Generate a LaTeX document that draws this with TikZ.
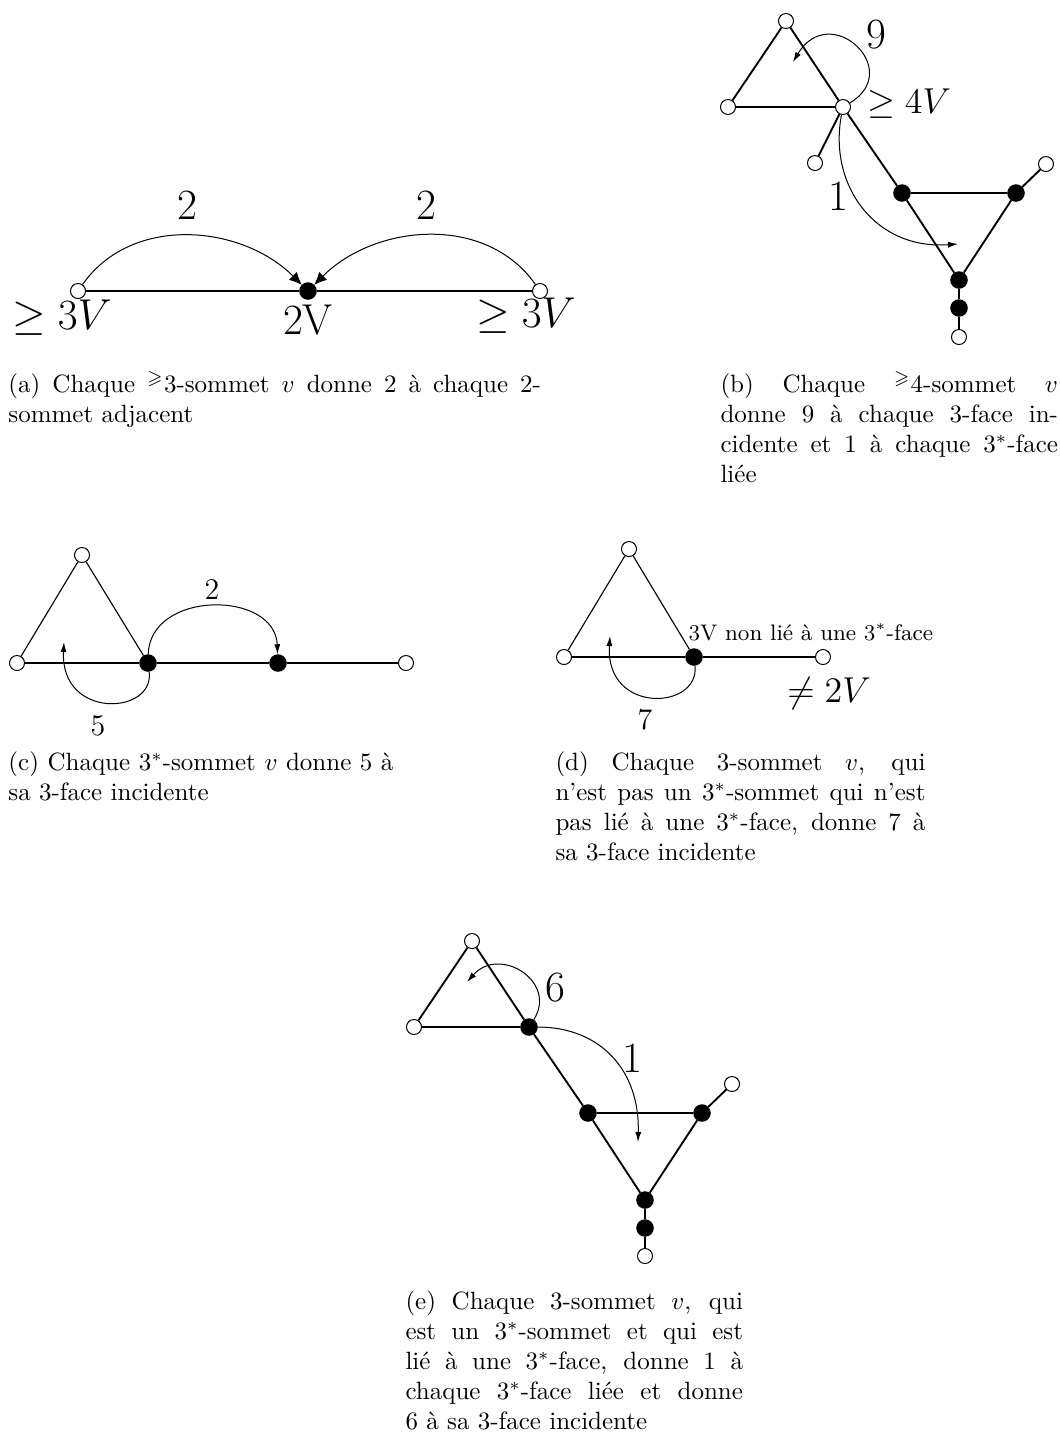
\documentclass[tikz,border=0pt]{standalone}
\usepackage{amsmath,amssymb}
\usetikzlibrary{arrows.meta}

\begin{document}
\begin{tikzpicture}[
    x=0.4pt, y=-0.4pt,
    wv/.style={circle, draw=black, fill=white, line width=0.4pt, inner sep=0pt, minimum size=6pt},
    bv/.style={circle, draw=black, fill=black, inner sep=0pt, minimum size=6.6pt},
    edge/.style={line width=0.75pt},
    thinedge/.style={line width=0.45pt},
    arc/.style={line width=0.4pt, -{Latex[length=4pt,width=2.4pt]}},
    bigarc/.style={line width=0.4pt, -{Latex[length=5pt,width=4.5pt]}},
    lbl/.style={inner sep=0pt},
    caption/.style={anchor=north west, inner sep=0pt, align=justify, font=\normalsize}
]
\useasboundingbox (0,0) rectangle (1060,1436);

\node[wv] (a1) at (78,291) {};
\node[bv] (a2) at (308,291) {};
\node[wv] (a3) at (540,291) {};
\draw[edge] (a1) -- (a2);
\draw[edge] (a2) -- (a3);
\draw[bigarc] (a1) to[out=55, in=135] (a2);
\draw[bigarc] (a3) to[out=125, in=45] (a2);
\node[lbl, font=\LARGE] (a2l) at (187,205) {2};
\node[lbl, font=\LARGE] (a4l) at (426,205) {2};
\node[lbl, font=\LARGE] (a1v) at (62,318) {$\geq 3V$};
\node[lbl, font=\LARGE] (a2v) at (308,320) {2V};
\node[lbl, font=\LARGE] (a3v) at (526,316) {$\geq 3V$};
\node[caption, text width=213pt] (capa) at (8,371)
  {(a) Chaque $^{\geqslant}$3-sommet $v$ donne 2 à chaque 2-\linebreak sommet adjacent};

\node[wv] (b1) at (786,21) {};
\node[wv] (b2) at (728,107) {};
\node[wv] (b3) at (843,107) {};
\node[wv] (b4) at (815,163) {};
\node[bv] (b5) at (902,193) {};
\node[bv] (b6) at (1016,193) {};
\node[wv] (b7) at (1046,164) {};
\node[bv] (b8) at (959,280) {};
\node[bv] (b9) at (959,308) {};
\node[wv] (b10) at (959,337) {};
\draw[edge] (b1) -- (b2);
\draw[edge] (b1) -- (b3);
\draw[edge] (b2) -- (b3);
\draw[edge] (b3) -- (b4);
\draw[edge] (b3) -- (b5);
\draw[edge] (b5) -- (b6);
\draw[edge] (b5) -- (b8);
\draw[edge] (b6) -- (b8);
\draw[edge] (b6) -- (b7);
\draw[edge] (b8) -- (b9);
\draw[edge] (b9) -- (b10);
\coordinate (bnine) at (793,62);
\coordinate (bone) at (958,244);
\draw[arc] (b3) .. controls (905,70) and (830,0) .. (bnine);
\draw[arc] (b3) .. controls (828,185) and (875,250) .. (bone);
\node[lbl, font=\LARGE] (b9l) at (876,35) {9};
\node[lbl, font=\Large] (b3v) at (909,104) {$\geq 4V$};
\node[lbl, font=\LARGE] (b1l) at (838,196) {1};
\node[caption, text width=135pt] (capb) at (720,371)
  {(b) Chaque $^{\geqslant}$4-sommet $v$\linebreak donne 9 à chaque 3-face in-\linebreak cidente et 1 à chaque 3$^*$-face\linebreak liée};

\node[wv] (c1) at (82,555) {};
\node[wv] (c2) at (17,663) {};
\node[bv] (c3) at (148,663) {};
\node[bv] (c4) at (278,663) {};
\node[wv] (c5) at (406,663) {};
\draw[thinedge] (c1) -- (c2);
\draw[thinedge] (c1) -- (c3);
\draw[thinedge] (c2) -- (c3);
\draw[edge] (c3) -- (c4);
\draw[edge] (c4) -- (c5);
\coordinate (cfive) at (64,642);
\draw[arc] (c3) .. controls (150,590) and (275,590) .. (c4);
\draw[arc] (c3) .. controls (155,715) and (60,720) .. (cfive);
\node[lbl, font=\large] (c2l) at (212,590) {2};
\node[lbl, font=\large] (c5l) at (98,726) {5};
\node[caption, text width=154pt] (capc) at (8,751)
  {(c) Chaque 3$^*$-sommet $v$ donne 5 à\linebreak sa 3-face incidente};

\node[wv] (d1) at (629,549) {};
\node[wv] (d2) at (564,657) {};
\node[bv] (d3) at (694,657) {};
\node[wv] (d4) at (823,657) {};
\draw[thinedge] (d1) -- (d2);
\draw[thinedge] (d1) -- (d3);
\draw[thinedge] (d2) -- (d3);
\draw[edge] (d3) -- (d4);
\coordinate (dseven) at (610,636);
\draw[arc] (d3) .. controls (700,710) and (605,715) .. (dseven);
\node[lbl, font=\small, anchor=base west] (d3v) at (688,640) {3V non lié à une 3$^*$-face};
\node[lbl, font=\Large] (d4v) at (829,693) {$\neq 2V$};
\node[lbl, font=\large] (d7l) at (645,720) {7};
\node[caption, text width=148pt] (capd) at (555,751)
  {(d) Chaque 3-sommet $v$, qui\linebreak n’est pas un 3$^*$-sommet qui n’est\linebreak pas lié à une 3$^*$-face, donne 7 à\linebreak sa 3-face incidente};

\node[wv] (e1) at (472,941) {};
\node[wv] (e2) at (414,1027) {};
\node[bv] (e3) at (529,1027) {};
\node[bv] (e5) at (588,1113) {};
\node[bv] (e6) at (702,1113) {};
\node[wv] (e7) at (732,1084) {};
\node[bv] (e8) at (645,1200) {};
\node[bv] (e9) at (645,1228) {};
\node[wv] (e10) at (645,1256) {};
\draw[edge] (e1) -- (e2);
\draw[edge] (e1) -- (e3);
\draw[edge] (e2) -- (e3);
\draw[edge] (e3) -- (e5);
\draw[edge] (e5) -- (e6);
\draw[edge] (e5) -- (e8);
\draw[edge] (e6) -- (e8);
\draw[edge] (e6) -- (e7);
\draw[edge] (e8) -- (e9);
\draw[edge] (e9) -- (e10);
\coordinate (esix) at (467,982);
\coordinate (eone) at (638,1142);
\draw[arc] (e3) .. controls (558,982) and (500,945) .. (esix);
\draw[arc] (e3) .. controls (600,1027) and (640,1070) .. (eone);
\node[lbl, font=\LARGE] (e6l) at (555,988) {6};
\node[lbl, font=\LARGE] (e1l) at (632,1058) {1};
\node[caption, text width=135pt] (cape) at (405,1290)
  {(e) Chaque 3-sommet $v$, qui\linebreak est un 3$^*$-sommet et qui est\linebreak lié à une 3$^*$-face, donne 1 à\linebreak chaque 3$^*$-face liée et donne\linebreak 6 à sa 3-face incidente};
\end{tikzpicture}
\end{document}
